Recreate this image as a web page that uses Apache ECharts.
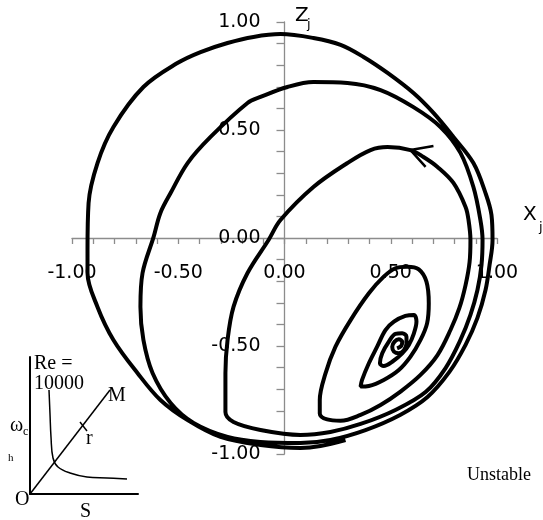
<!DOCTYPE html>
<html>
<head>
<meta charset="utf-8">
<script src="https://cdn.jsdelivr.net/npm/echarts@6/dist/echarts.min.js"></script>
<style>
  html, body { margin: 0; padding: 0; background: #fff; }
  #main { width: 543px; height: 520px; }
</style>
</head>
<body>
<div id="main"></div>
<script>
const chartDom = document.getElementById('main');
let myChart = echarts.init(chartDom);

// trajectory (Xj, Zj), from the centre outwards
const innerLoops = [
    [0.530, -0.511], [0.549, -0.500], [0.554, -0.480], [0.538, -0.469], [0.518, -0.480],
    [0.507, -0.503], [0.515, -0.526], [0.538, -0.534], [0.562, -0.519],
    [0.574, -0.488], [0.574, -0.457], [0.554, -0.441], [0.522, -0.444], [0.491, -0.480],
    [0.460, -0.534], [0.449, -0.580], [0.467, -0.593], [0.507, -0.573], [0.554, -0.534],
    [0.585, -0.495],
    [0.609, -0.441], [0.621, -0.387], [0.609, -0.356], [0.569, -0.361], [0.515, -0.387],
    [0.475, -0.426], [0.436, -0.503], [0.397, -0.580], [0.365, -0.657], [0.358, -0.688],
    [0.397, -0.685], [0.467, -0.657], [0.538, -0.611], [0.593, -0.549]
];

const loopD = [
    [0.640, -0.472], [0.671, -0.395], [0.679, -0.302], [0.668, -0.202], [0.632, -0.145],
    [0.577, -0.133], [0.522, -0.140], [0.467, -0.179], [0.397, -0.256], [0.311, -0.380],
    [0.240, -0.503], [0.193, -0.627], [0.166, -0.750], [0.166, -0.812], [0.201, -0.840],
    [0.264, -0.846], [0.358, -0.819], [0.452, -0.773], [0.546, -0.711], [0.640, -0.634]
];

const loopA = [
    [0.720, -0.542], [0.781, -0.426], [0.823, -0.324], [0.852, -0.218], [0.871, -0.111],
    [0.875, -0.009], [0.866, 0.083], [0.852, 0.144], [0.795, 0.255], [0.720, 0.329],
    [0.654, 0.375], [0.593, 0.407], [0.485, 0.421], [0.405, 0.407], [0.296, 0.347],
    [0.136, 0.236], [-0.019, 0.083], [-0.075, -0.009], [-0.174, -0.162], [-0.240, -0.319],
    [-0.268, -0.472], [-0.278, -0.625], [-0.278, -0.806], [-0.240, -0.852], [-0.113, -0.889],
    [0.075, -0.912]
];

const loopB = [
    [0.216, -0.898], [0.358, -0.861], [0.522, -0.796], [0.664, -0.713], [0.758, -0.602],
    [0.828, -0.472], [0.875, -0.356], [0.908, -0.241], [0.927, -0.125], [0.932, -0.009],
    [0.922, 0.083], [0.889, 0.236], [0.828, 0.394], [0.734, 0.514], [0.607, 0.606],
    [0.452, 0.685], [0.296, 0.718], [0.136, 0.722], [0.014, 0.699], [-0.113, 0.653],
    [-0.174, 0.625], [-0.348, 0.468], [-0.456, 0.347], [-0.536, 0.208], [-0.584, 0.116],
    [-0.616, 0.005], [-0.668, -0.162], [-0.678, -0.319], [-0.664, -0.472], [-0.621, -0.625],
    [-0.536, -0.764], [-0.428, -0.856], [-0.268, -0.921], [-0.113, -0.944], [0.075, -0.949]
];

const loopC = [
    [0.216, -0.935], [0.381, -0.889], [0.544, -0.819], [0.673, -0.736], [0.776, -0.620],
    [0.852, -0.495], [0.908, -0.370], [0.946, -0.241], [0.965, -0.125], [0.979, -0.009],
    [0.974, 0.106], [0.946, 0.208], [0.889, 0.347], [0.795, 0.468], [0.701, 0.579],
    [0.607, 0.671], [0.485, 0.764], [0.372, 0.838], [0.264, 0.894], [0.136, 0.926],
    [-0.019, 0.944], [-0.146, 0.931], [-0.268, 0.903], [-0.395, 0.861], [-0.504, 0.810],
    [-0.664, 0.699], [-0.805, 0.514], [-0.880, 0.347], [-0.922, 0.162], [-0.927, -0.056],
    [-0.927, -0.162], [-0.880, -0.319], [-0.805, -0.472], [-0.692, -0.625], [-0.584, -0.750],
    [-0.456, -0.843], [-0.301, -0.921], [-0.113, -0.958], [0.075, -0.972], [0.169, -0.963],
    [0.287, -0.935]
];

const arrowHead = [[0.701, 0.426], [0.593, 0.407], [0.664, 0.329]];

// inset sketch (its own little axes, units in px of the sketch)
const insetDiagonal = [[0, 0], [80, 104]];
const insetMark = [[50, 72], [57, 63]];
const insetCurve = [
    [19, 104], [20, 80], [21, 57], [23, 36], [28, 27], [40, 21], [57, 17], [77, 16], [97, 15]
];

const trajectory = [].concat(innerLoops, loopD, loopA, loopB, loopC);

const axisGray = '#8c8c8c';
const tickFormat = (v) => (Math.round(v * 100) / 100).toFixed(2).replace('-0.00', '0.00');

const serif = 'Liberation Serif';
const sans = 'DejaVu Sans';

const txt = (left, top, text, size, family) => ({
    type: 'text',
    left,
    top,
    style: { text, font: `${size}px "${family}"`, fill: '#000' }
});

myChart.setOption({
    animation: false,
    backgroundColor: '#fff',
    grid: [
        { left: 72, width: 425, top: 22, height: 432 },
        { left: 30, top: 357, width: 108, height: 137 }
    ],
    xAxis: [
        {
            type: 'value', gridIndex: 0, min: -1, max: 1, interval: 0.5,
            position: 'bottom', offset: -216,
            axisLine: { onZero: false, lineStyle: { color: axisGray, width: 1.3 } },
            axisTick: { length: 6, lineStyle: { color: axisGray, width: 1.3 } },
            minorTick: { show: true, splitNumber: 5, length: 6, lineStyle: { color: axisGray, width: 1.3 } },
            splitLine: { show: false },
            axisLabel: { formatter: tickFormat, margin: 26, fontSize: 19, fontFamily: sans, color: '#000' }
        },
        {
            type: 'value', gridIndex: 1, min: 0, max: 108,
            axisLine: { onZero: false, lineStyle: { color: '#000', width: 2 } },
            axisTick: { show: false }, axisLabel: { show: false }, splitLine: { show: false }
        }
    ],
    yAxis: [
        {
            type: 'value', gridIndex: 0, min: -1, max: 1, interval: 0.5,
            position: 'left', offset: -212.5,
            axisLine: { onZero: false, lineStyle: { color: axisGray, width: 1.3 } },
            axisTick: { length: 8, lineStyle: { color: axisGray, width: 1.3 } },
            minorTick: { show: true, splitNumber: 5, length: 8, lineStyle: { color: axisGray, width: 1.3 } },
            splitLine: { show: false },
            axisLabel: { formatter: tickFormat, margin: 24, fontSize: 19, fontFamily: sans, color: '#000' }
        },
        {
            type: 'value', gridIndex: 1, min: 0, max: 137,
            axisLine: { onZero: false, lineStyle: { color: '#000', width: 2 } },
            axisTick: { show: false }, axisLabel: { show: false }, splitLine: { show: false }
        }
    ],
    series: [
        {
            type: 'line', xAxisIndex: 0, yAxisIndex: 0,
            data: trajectory, smooth: 0.35, showSymbol: false,
            lineStyle: { color: '#000', width: 4 }
        },
        {
            type: 'line', xAxisIndex: 0, yAxisIndex: 0,
            data: arrowHead, showSymbol: false,
            lineStyle: { color: '#000', width: 2.5 }
        },
        {
            type: 'line', xAxisIndex: 1, yAxisIndex: 1,
            data: insetDiagonal, showSymbol: false,
            lineStyle: { color: '#000', width: 1.5 }
        },
        {
            type: 'line', xAxisIndex: 1, yAxisIndex: 1,
            data: insetMark, showSymbol: false,
            lineStyle: { color: '#000', width: 1.5 }
        },
        {
            type: 'line', xAxisIndex: 1, yAxisIndex: 1,
            data: insetCurve, smooth: 0.4, showSymbol: false,
            lineStyle: { color: '#000', width: 1.5 }
        }
    ],
    graphic: [
        txt(523, 205, 'X', 20, sans),
        txt(539, 221, 'j', 13, sans),
        txt(295, 6, 'Z', 20, sans),
        txt(307, 18, 'j', 13, sans),
        txt(34, 354, 'Re =', 20, serif),
        txt(34, 374, '10000', 20, serif),
        txt(108, 386, 'M', 20, serif),
        txt(86, 429, 'r', 20, serif),
        txt(10, 416, 'ω', 20, serif),
        txt(23, 426, 'c', 12, serif),
        txt(8, 453, 'h', 11, serif),
        txt(15, 490, 'O', 20, serif),
        txt(80, 502, 'S', 20, serif),
        txt(467, 466, 'Unstable', 18, serif)
    ]
});

window.addEventListener('resize', () => {
    myChart.resize();
});
</script>
</body>
</html>
